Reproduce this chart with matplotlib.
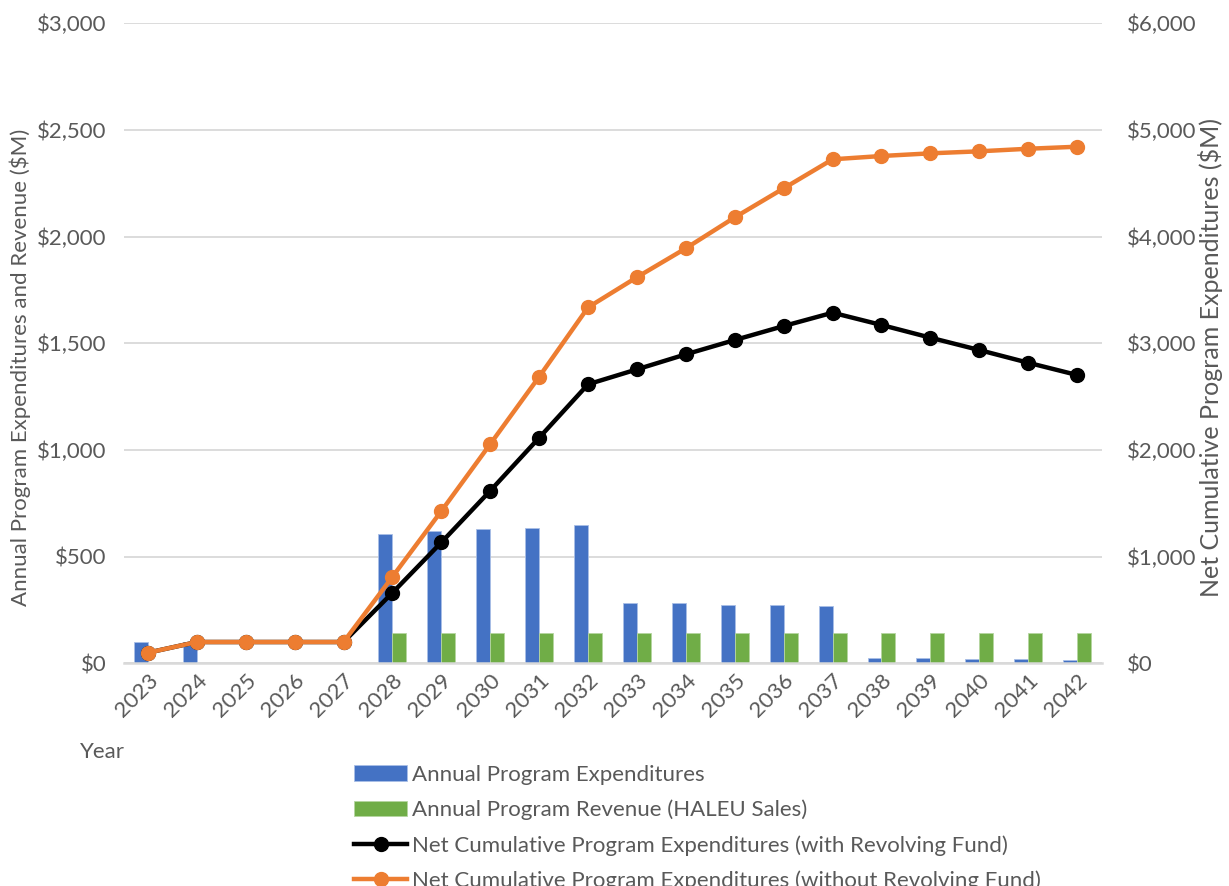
import matplotlib.pyplot as plt
import numpy as np
from matplotlib.ticker import FuncFormatter

plt.rcParams['font.family'] = ['Lato', 'DejaVu Sans']

# data ($M)
years = [str(y) for y in range(2023, 2043)]
expenditures = [100, 100, 0, 0, 0, 606, 619, 628, 636, 647,
                284, 281, 275, 272, 268, 27, 25, 22, 20, 17]
revenue = [0, 0, 0, 0, 0, 140, 140, 140, 140, 140,
           140, 140, 140, 140, 140, 140, 140, 140, 140, 140]
cum_with_fund = [100, 200, 200, 200, 200, 662, 1134, 1618, 2115, 2616,
                 2756, 2897, 3031, 3162, 3287, 3172, 3053, 2937, 2818, 2703]
cum_without_fund = [100, 200, 200, 200, 200, 812, 1428, 2056, 2687, 3337,
                    3620, 3891, 4181, 4453, 4725, 4756, 4781, 4800, 4824, 4843]

BLUE = "#4472C4"
GREEN = "#70AD47"
ORANGE = "#ED7D31"
GRAY = "#595959"
GRID = "#D9D9D9"
FS = 16

fig = plt.figure(figsize=(12.29, 8.86), dpi=100)
ax = fig.add_axes([0.1005, 0.2513, 0.7958, 0.7224])
ax2 = ax.twinx()

x = np.arange(len(years))
w = 0.286
ax.bar(x - w / 2, expenditures, w, color=BLUE, edgecolor="#A9BEE6", linewidth=0.6,
       label="Annual Program Expenditures")
ax.bar(x + w / 2, revenue, w, color=GREEN, edgecolor="#B5D6A0", linewidth=0.6,
       label="Annual Program Revenue (HALEU Sales)")

ax2.plot(x, cum_with_fund, color="black", lw=3.2, marker="o", ms=10,
         label="Net Cumulative Program Expenditures (with Revolving Fund)")
ax2.plot(x, cum_without_fund, color=ORANGE, lw=3.2, marker="o", ms=10,
         label="Net Cumulative Program Expenditures (without Revolving Fund)")

ax.set_xlim(-0.5, len(years) - 0.5)
ax.set_ylim(0, 3000)
ax2.set_ylim(0, 6000)
ax.set_yticks(np.arange(0, 3001, 500))
ax2.set_yticks(np.arange(0, 6001, 1000))
money = FuncFormatter(lambda v, p: f"${v:,.0f}")
ax.yaxis.set_major_formatter(money)
ax2.yaxis.set_major_formatter(money)

ax.set_xticks(x)
ax.set_xticklabels(years, rotation=45, ha="right", va="top", rotation_mode="anchor")

for a in (ax, ax2):
    for s in a.spines.values():
        s.set_visible(False)
    a.tick_params(length=0, colors=GRAY, labelsize=FS)
ax.spines["bottom"].set_visible(True)
ax.spines["bottom"].set_color(GRID)
ax.spines["bottom"].set_linewidth(1.8)
ax.tick_params(axis="y", pad=12)
ax2.tick_params(axis="y", pad=18)
ax.tick_params(axis="x", pad=5)

ax.grid(axis="y", color=GRID, lw=1.3)
ax.set_axisbelow(True)

ax.set_ylabel("Annual Program Expenditures and Revenue ($M)", color=GRAY, fontsize=16)
ax2.set_ylabel("Net Cumulative Program Expenditures ($M)", color=GRAY, fontsize=18,
               rotation=90)
ax.yaxis.set_label_coords(-0.095, 0.462)
ax2.yaxis.set_label_coords(1.099, 0.478)

fig.text(80 / 1229, 1 - 752 / 886, "Year", color=GRAY, fontsize=FS, va="center", ha="left")

h1, l1 = ax.get_legend_handles_labels()
h2, l2 = ax2.get_legend_handles_labels()
leg = fig.legend(h1 + h2, l1 + l2, loc="upper left",
                 bbox_to_anchor=(354 / 1229, 1 - 765 / 886), frameon=False,
                 fontsize=FS, handlelength=2.4, handletextpad=0.2, labelspacing=0.66,
                 borderaxespad=0, borderpad=0)
for t in leg.get_texts():
    t.set_color(GRAY)

fig.savefig("out.png", dpi=100)
